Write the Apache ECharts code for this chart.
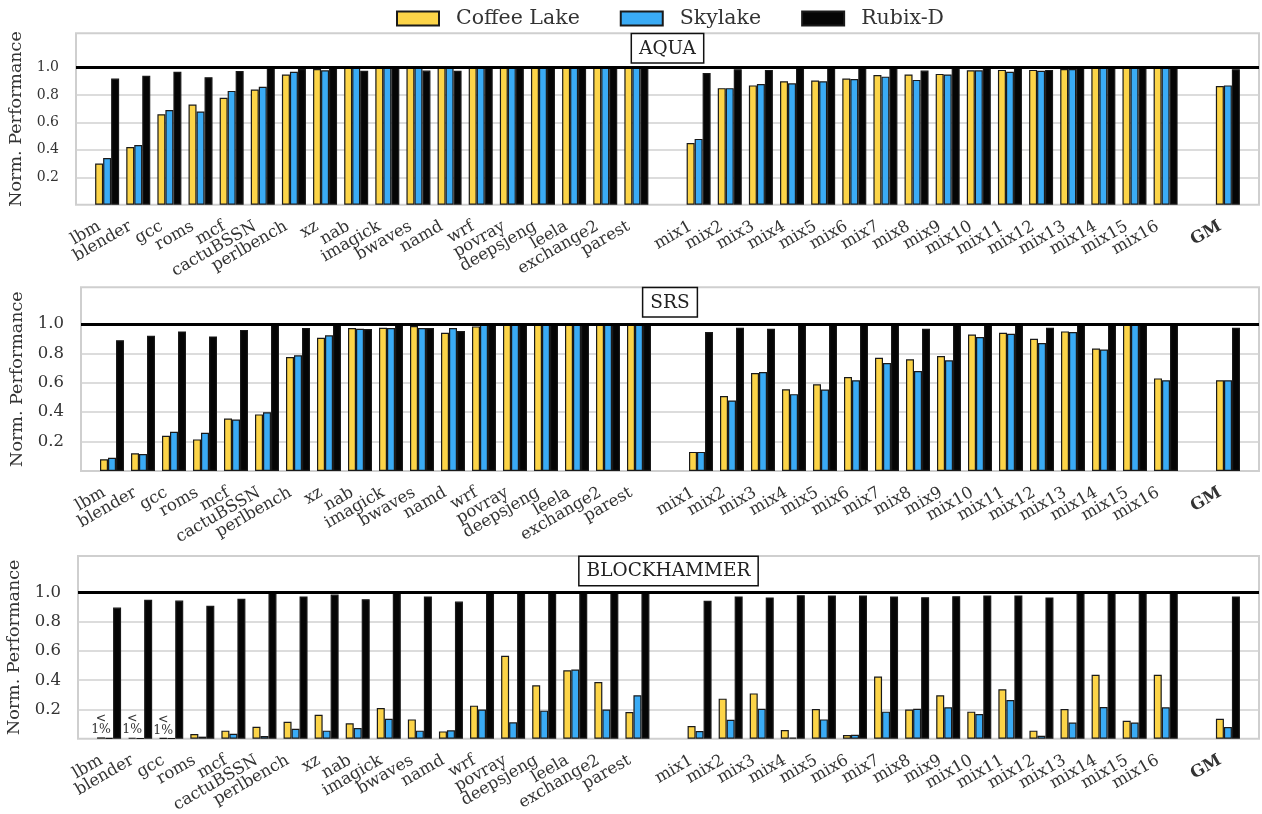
<!DOCTYPE html>
<html>
<head>
<meta charset="utf-8">
<script src="https://cdn.jsdelivr.net/npm/echarts@6/dist/echarts.min.js"></script>
<style>
  html, body { margin: 0; padding: 0; background: #fff; }
  #chart { width: 1262px; height: 814px; }
</style>
</head>
<body>
<div id="chart"></div>
<script>
// Workloads: single-core SPEC benchmarks, multi-programmed mixes, geometric mean
const benchmarks = ['lbm', 'blender', 'gcc', 'roms', 'mcf', 'cactuBSSN', 'perlbench', 'xz', 'nab',
  'imagick', 'bwaves', 'namd', 'wrf', 'povray', 'deepsjeng', 'leela', 'exchange2', 'parest'];
const mixes = ['mix1', 'mix2', 'mix3', 'mix4', 'mix5', 'mix6', 'mix7', 'mix8', 'mix9', 'mix10',
  'mix11', 'mix12', 'mix13', 'mix14', 'mix15', 'mix16'];
const meanLabel = 'GM';

const seriesNames = ['Coffee Lake', 'Skylake', 'Rubix-D'];
const panelTitles = ['AQUA', 'SRS', 'BLOCKHAMMER'];
const yTicks = [0.2, 0.4, 0.6, 0.8, 1.0];

// Normalized performance, ordered: benchmarks, mixes, GM
const aquaCoffee = [0.30, 0.42, 0.66, 0.73, 0.78, 0.84, 0.95, 0.99, 1.0, 1.0, 1.0, 1.0, 1.0, 1.0, 1.0, 1.0, 1.0, 1.0,
  0.45, 0.85, 0.87, 0.90, 0.905, 0.92, 0.946, 0.95, 0.954, 0.98, 0.983, 0.983, 0.99, 1.0, 1.0, 1.0,
  0.866];
const aquaSky = [0.34, 0.435, 0.69, 0.68, 0.83, 0.86, 0.97, 0.98, 1.0, 1.0, 1.0, 1.0, 1.0, 1.0, 1.0, 1.0, 1.0, 1.0,
  0.48, 0.85, 0.88, 0.885, 0.90, 0.917, 0.934, 0.91, 0.95, 0.98, 0.97, 0.976, 0.99, 1.0, 1.0, 1.0,
  0.87];
const aquaRubix = [0.92, 0.94, 0.97, 0.93, 0.975, 1.0, 0.99, 1.0, 0.977, 1.0, 0.978, 0.976, 1.0, 1.0, 1.0, 1.0, 1.0, 1.0,
  0.96, 0.988, 0.983, 1.0, 1.0, 1.0, 1.0, 0.978, 1.0, 1.0, 1.0, 0.983, 1.0, 1.0, 1.0, 1.0,
  0.988];

const srsCoffee = [0.08, 0.12, 0.24, 0.215, 0.357, 0.385, 0.776, 0.907, 0.973, 0.975, 0.986, 0.94, 0.984, 1.0, 1.0, 1.0, 1.0, 0.995,
  0.13, 0.51, 0.667, 0.556, 0.59, 0.64, 0.77, 0.76, 0.783, 0.928, 0.941, 0.90, 0.95, 0.833, 1.0, 0.63,
  0.618];
const srsSky = [0.09, 0.115, 0.267, 0.26, 0.35, 0.40, 0.787, 0.923, 0.968, 0.973, 0.973, 0.973, 1.0, 1.0, 1.0, 1.0, 1.0, 1.0,
  0.13, 0.48, 0.674, 0.523, 0.554, 0.618, 0.735, 0.68, 0.753, 0.912, 0.934, 0.871, 0.946, 0.826, 1.0, 0.618,
  0.618];
const srsRubix = [0.89, 0.92, 0.95, 0.916, 0.96, 1.0, 0.973, 1.0, 0.966, 1.0, 0.973, 0.953, 1.0, 1.0, 1.0, 1.0, 1.0, 1.0,
  0.945, 0.975, 0.968, 1.0, 1.0, 1.0, 1.0, 0.968, 1.0, 1.0, 1.0, 0.975, 1.0, 1.0, 1.0, 1.0,
  0.975];

const bhCoffee = [0.009, 0.006, 0.004, 0.032, 0.055, 0.082, 0.116, 0.164, 0.105, 0.21, 0.132, 0.05, 0.226, 0.568, 0.365, 0.468, 0.388, 0.183,
  0.087, 0.274, 0.31, 0.06, 0.203, 0.025, 0.425, 0.199, 0.297, 0.185, 0.338, 0.055, 0.203, 0.438, 0.123, 0.438,
  0.137];
const bhSky = [0.004, 0.003, 0.003, 0.014, 0.034, 0.018, 0.068, 0.055, 0.073, 0.137, 0.055, 0.057, 0.2, 0.112, 0.192, 0.473, 0.2, 0.297,
  0.053, 0.13, 0.205, 0.007, 0.132, 0.027, 0.185, 0.205, 0.215, 0.169, 0.265, 0.02, 0.11, 0.217, 0.11, 0.215,
  0.08];
const bhRubix = [0.897, 0.95, 0.945, 0.91, 0.957, 1.0, 0.973, 0.986, 0.954, 1.0, 0.973, 0.938, 1.0, 1.0, 1.0, 1.0, 1.0, 1.0,
  0.943, 0.973, 0.966, 0.982, 0.98, 0.98, 0.973, 0.968, 0.975, 0.98, 0.98, 0.966, 1.0, 1.0, 1.0, 1.0,
  0.973];

const panelData = [
  [aquaCoffee, aquaSky, aquaRubix],
  [srsCoffee, srsSky, srsRubix],
  [bhCoffee, bhSky, bhRubix]
];

// Category slots: blank padding at both ends and a blank gap between groups
const categories = [''].concat(benchmarks, [''], mixes, [''], [meanLabel], ['']);

function padValues(vals) {
  const nb = benchmarks.length, nm = mixes.length;
  return ['-'].concat(vals.slice(0, nb), ['-'], vals.slice(nb, nb + nm), ['-'], vals.slice(nb + nm), ['-']);
}

const FONT = '"DejaVu Serif", "Liberation Serif", serif';
const TEXT = '#333333';
const colors = ['#FCD448', '#3AABF5', '#050505'];
const GRID_RIGHT = 3;
const grids = [
  { left: 76, top: 33.3, height: 171.4, tickFont: 14 },
  { left: 81, top: 287.3, height: 183.7, tickFont: 16.5 },
  { left: 78, top: 556, height: 182.7, tickFont: 16.5 }
];

const option = {
  animation: false,
  backgroundColor: '#ffffff',
  textStyle: { fontFamily: FONT },
  legend: {
    top: 3, left: 391, icon: 'rect',
    itemWidth: 42, itemHeight: 14, itemGap: 40,
    selectedMode: false,
    data: seriesNames,
    textStyle: { fontFamily: FONT, fontSize: 20.5, color: TEXT, padding: [0, 0, 0, 12] }
  },
  grid: grids.map(g => ({
    left: g.left, right: GRID_RIGHT, top: g.top, height: g.height,
    show: true, borderColor: '#cfcfcf', borderWidth: 2, backgroundColor: 'transparent',
    containLabel: false, outerBoundsMode: 'none'
  })),
  xAxis: grids.map((g, i) => ({
    type: 'category', gridIndex: i, data: categories, boundaryGap: false,
    axisLine: { show: false }, axisTick: { show: false }, splitLine: { show: false },
    axisLabel: {
      interval: 0, rotate: 30, margin: 16, padding: [0, 9, 0, 0],
      fontFamily: FONT, fontSize: 16.5, color: TEXT,
      formatter: v => v === meanLabel ? '{b|' + v + '}' : v,
      rich: { b: { fontFamily: FONT, fontSize: 16.5, fontWeight: 'bold', color: TEXT } }
    }
  })),
  yAxis: grids.map((g, i) => ({
    type: 'value', gridIndex: i, min: 0, max: 1.25,
    name: 'Norm. Performance', nameLocation: 'middle', nameGap: 49,
    nameTextStyle: { fontFamily: FONT, fontSize: 17.5, color: TEXT },
    axisLine: { show: false },
    axisTick: { show: false, customValues: yTicks },
    axisLabel: { customValues: yTicks, margin: 17, fontFamily: FONT, fontSize: g.tickFont, color: TEXT,
      formatter: v => v.toFixed(1) },
    splitLine: { show: true, lineStyle: { color: '#d0d0d0', width: 1.5 } }
  })),
  graphic: grids.map((g, i) => ({
    type: 'text', z: 100,
    x: (g.left + (1262 - GRID_RIGHT)) / 2, y: g.top + 1,
    style: {
      text: panelTitles[i], align: 'center', verticalAlign: 'top',
      font: '18.5px ' + FONT, fill: '#222',
      backgroundColor: '#ffffff', borderColor: '#111', borderWidth: 1.5,
      padding: [5, 7, 4, 7]
    }
  })),
  series: []
};

panelData.forEach((sets, p) => {
  sets.forEach((vals, s) => {
    const ser = {
      type: 'bar', name: seriesNames[s], xAxisIndex: p, yAxisIndex: p,
      data: padValues(vals), barWidth: 8, barGap: '0%',
      itemStyle: { color: colors[s], borderColor: '#1a1a1a', borderWidth: 1.2 },
      emphasis: { disabled: true }
    };
    if (s === 0) {
      // values below one percent get an explicit "<1%" note
      ser.label = {
        show: true, position: 'top', distance: 2,
        fontFamily: FONT, fontSize: 12.5, lineHeight: 11, color: TEXT,
        formatter: prm => (typeof prm.value === 'number' && prm.value < 0.01) ? '<\n1%' : ''
      };
    }
    if (s === 2) {
      ser.markLine = {
        silent: true, symbol: 'none', label: { show: false },
        lineStyle: { color: '#000', width: 2.8, type: 'solid' },
        emphasis: { disabled: true },
        data: [{ yAxis: 1.0 }]
      };
    }
    option.series.push(ser);
  });
});

const chart = echarts.init(document.getElementById('chart'), null, { renderer: 'canvas' });
chart.setOption(option);
</script>
</body>
</html>
